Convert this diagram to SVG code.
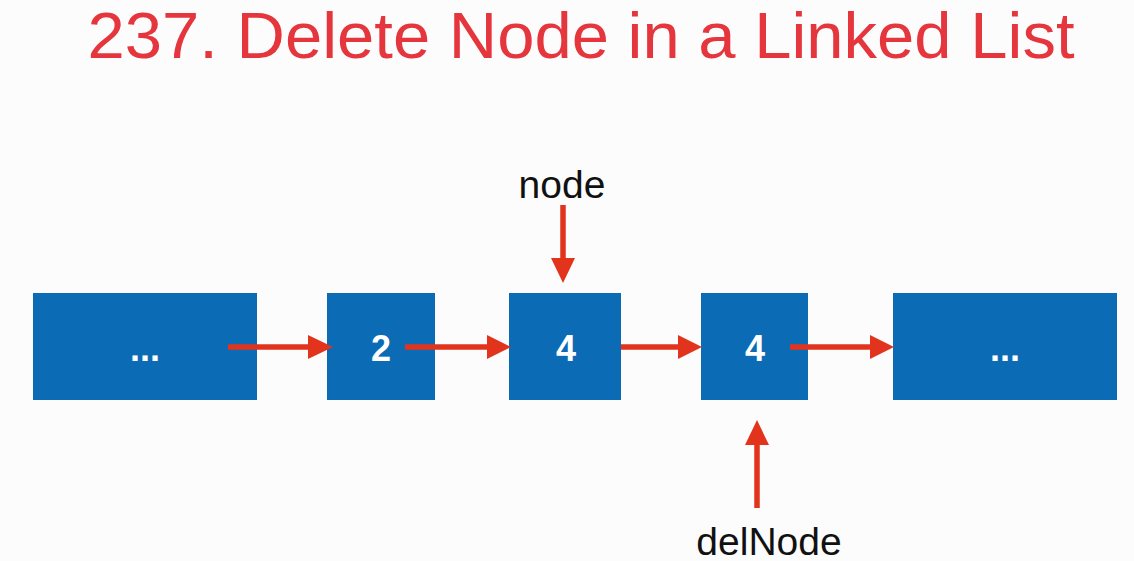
<svg xmlns="http://www.w3.org/2000/svg" width="1134" height="561" viewBox="0 0 1134 561">
<style>
.box{fill:#0b6bb4}
.val{font-family:"Liberation Sans",Arial,sans-serif;font-weight:bold;font-size:36px;fill:#ffffff;text-anchor:middle}
.lbl{font-family:"Liberation Sans",Arial,sans-serif;font-size:39px;fill:#111111;text-anchor:middle}
.title{font-family:"Liberation Sans",Arial,sans-serif;font-size:65px;fill:#e5353d;text-anchor:middle}
.ln{stroke:#e2341d;stroke-width:5.5;fill:none}
.hd{fill:#e2341d}
</style>
<rect width="1134" height="561" fill="#fcfcfc"/>
<text class="title" x="581" y="58" textLength="987" lengthAdjust="spacingAndGlyphs">237. Delete Node in a Linked List</text>
<g id="n1"><rect class="box" x="33" y="293" width="224" height="107"/><text class="val" x="145" y="361">...</text></g>
<g id="n2"><rect class="box" x="327" y="293" width="108" height="107"/><text class="val" x="381" y="361">2</text></g>
<g id="n3"><rect class="box" x="509" y="293" width="112" height="107"/><text class="val" x="566" y="361">4</text></g>
<g id="n4"><rect class="box" x="701" y="293" width="107" height="107"/><text class="val" x="755" y="361">4</text></g>
<g id="n5"><rect class="box" x="893" y="293" width="224" height="107"/><text class="val" x="1005" y="361">...</text></g>
<g id="lbl-node"><text class="lbl" x="562" y="198">node</text></g>
<g id="lbl-delNode"><text class="lbl" x="769" y="555">delNode</text></g>
<g id="connectors">
<line class="ln" x1="228" y1="347" x2="310" y2="347"/><polygon class="hd" points="308,335 333,347 308,359"/>
<line class="ln" x1="405" y1="347" x2="490" y2="347"/><polygon class="hd" points="487,335 511,347 487,359"/>
<line class="ln" x1="621" y1="347" x2="680" y2="347"/><polygon class="hd" points="678,335 702,347 678,359"/>
<line class="ln" x1="790" y1="347" x2="872" y2="347"/><polygon class="hd" points="870,335 894,347 870,359"/>
<line class="ln" x1="563" y1="205" x2="563" y2="260"/><polygon class="hd" points="551,258 563,283 575,258"/>
<line class="ln" x1="757" y1="508" x2="757" y2="443"/><polygon class="hd" points="745,445 757,420 769,445"/>
</g>
</svg>
